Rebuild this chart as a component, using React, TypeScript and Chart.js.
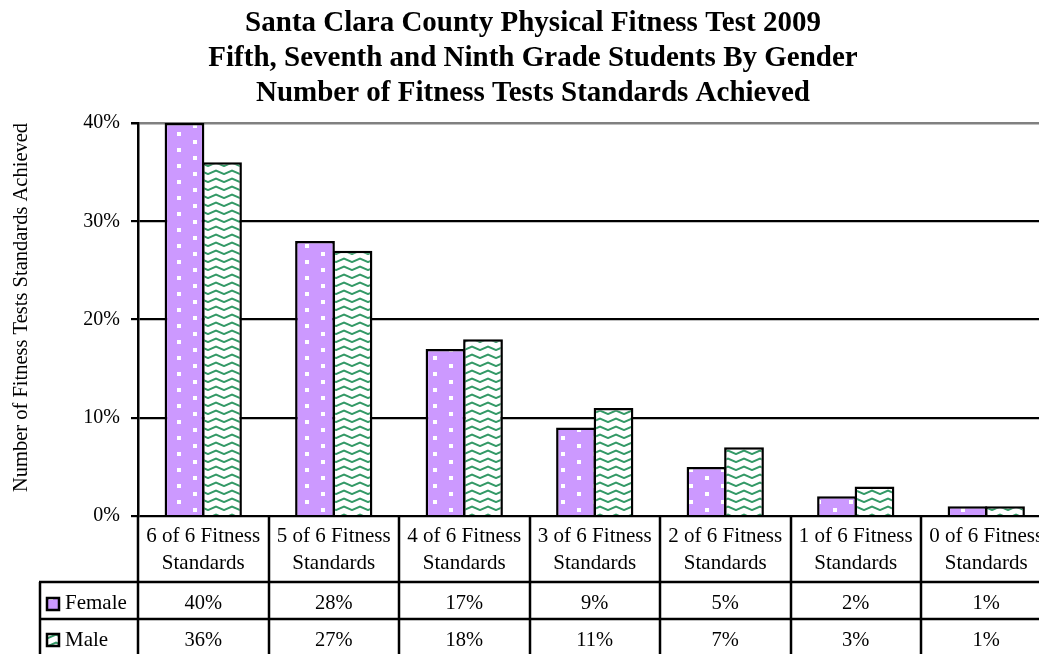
import React, { useEffect, useRef } from 'react';
import { Chart, registerables } from 'chart.js';

Chart.register(...registerables);

const titleLines = [
  'Santa Clara County Physical Fitness Test 2009',
  'Fifth, Seventh and Ninth Grade Students By Gender',
  'Number of Fitness Tests Standards Achieved',
];
const yAxisTitle = 'Number of Fitness Tests Standards Achieved';
const categories = [
  '6 of 6 Fitness Standards',
  '5 of 6 Fitness Standards',
  '4 of 6 Fitness Standards',
  '3 of 6 Fitness Standards',
  '2 of 6 Fitness Standards',
  '1 of 6 Fitness Standards',
  '0 of 6 Fitness Standards',
];
const categoryLines = [
  ['6 of 6 Fitness', 'Standards'],
  ['5 of 6 Fitness', 'Standards'],
  ['4 of 6 Fitness', 'Standards'],
  ['3 of 6 Fitness', 'Standards'],
  ['2 of 6 Fitness', 'Standards'],
  ['1 of 6 Fitness', 'Standards'],
  ['0 of 6 Fitness', 'Standards'],
];
const seriesNames = ['Female', 'Male'];
const femaleValues = [40, 28, 17, 9, 5, 2, 1];
const maleValues = [36, 27, 18, 11, 7, 3, 1];
const yMin = 0;
const yMax = 40;
const yStep = 10;

const FONT = '"Liberation Serif", "Times New Roman", serif';

function makeDotPattern(ctx: CanvasRenderingContext2D) {
  const c = document.createElement('canvas');
  c.width = 32;
  c.height = 16;
  const g = c.getContext('2d')!;
  g.fillStyle = '#CC99FF';
  g.fillRect(0, 0, 32, 16);
  g.fillStyle = '#FFFFFF';
  g.fillRect(17, 4, 4, 4);
  g.fillRect(1, 12, 4, 4);
  return ctx.createPattern(c, 'repeat')!;
}

function makeZigzagPattern(ctx: CanvasRenderingContext2D) {
  const c = document.createElement('canvas');
  c.width = 16;
  c.height = 8;
  const g = c.getContext('2d')!;
  g.fillStyle = '#FFFFFF';
  g.fillRect(0, 0, 16, 8);
  g.strokeStyle = '#339966';
  g.lineWidth = 2;
  g.beginPath();
  g.moveTo(-2, 6.5);
  g.lineTo(0, 6);
  g.lineTo(8, 2.5);
  g.lineTo(16, 6);
  g.lineTo(18, 6.5);
  g.stroke();
  return ctx.createPattern(c, 'repeat')!;
}

export default function App() {
  const ref = useRef<HTMLCanvasElement | null>(null);

  useEffect(() => {
    const canvas = ref.current!;
    const ctx = canvas.getContext('2d')!;
    const femalePattern = makeDotPattern(ctx);
    const malePattern = makeZigzagPattern(ctx);
    const patterns = [femalePattern, malePattern];
    const valuesBySeries = [femaleValues, maleValues];

    const decorPlugin = {
      id: 'decor',
      afterDraw(chart: any) {
        const c = chart.ctx as CanvasRenderingContext2D;
        const xs = chart.scales.x;
        const area = chart.chartArea;
        const catW = xs.getPixelForValue(1) - xs.getPixelForValue(0);
        const axisY = area.bottom;
        const row1 = 582;
        const row2 = 619;
        const row3 = 656;
        const leftCol = 40;
        const bottom = chart.height;

        c.save();
        // Title
        c.fillStyle = '#000';
        c.textAlign = 'center';
        c.textBaseline = 'alphabetic';
        c.font = `bold 29px ${FONT}`;
        const titleBase = [31, 66, 101];
        titleLines.forEach((t, i) => c.fillText(t, 533, titleBase[i]));

        // Y axis title
        c.save();
        c.translate(27, 307.5);
        c.rotate(-Math.PI / 2);
        c.font = `20.5px ${FONT}`;
        c.textAlign = 'center';
        c.textBaseline = 'alphabetic';
        c.fillText(yAxisTitle, 0, 0);
        c.restore();

        // Table lines
        c.strokeStyle = '#000';
        c.lineWidth = 2.5;
        c.beginPath();
        for (let i = 0; i <= categories.length; i++) {
          const x = Math.round(xs.getPixelForValue(i) - catW / 2);
          c.moveTo(x, axisY);
          c.lineTo(x, bottom);
        }
        c.moveTo(leftCol, row1);
        c.lineTo(leftCol, bottom);
        [row1, row2, row3].forEach((y) => {
          c.moveTo(leftCol - 1, y);
          c.lineTo(chart.width, y);
        });
        c.stroke();

        // Category labels
        c.fillStyle = '#000';
        c.textAlign = 'center';
        c.font = `21px ${FONT}`;
        categoryLines.forEach((lines, i) => {
          const cx = xs.getPixelForValue(i);
          c.fillText(lines[0], cx, 542);
          c.fillText(lines[1], cx, 569);
        });

        // Series rows
        const rowBase = [609, 646];
        const keyTop = [597, 633];
        seriesNames.forEach((name, s) => {
          c.fillStyle = patterns[s];
          c.fillRect(46, keyTop[s], 14, 14);
          c.lineWidth = 2.5;
          c.strokeStyle = '#000';
          c.strokeRect(47, keyTop[s] + 1, 12, 12);
          c.fillStyle = '#000';
          c.textAlign = 'left';
          c.font = `21px ${FONT}`;
          c.fillText(name, 65, rowBase[s]);
          c.textAlign = 'center';
          c.font = `20.5px ${FONT}`;
          valuesBySeries[s].forEach((v, i) => {
            c.fillText(`${v}%`, xs.getPixelForValue(i), rowBase[s]);
          });
        });
        c.restore();
      },
    };

    const chart = new Chart(canvas, {
      type: 'bar',
      data: {
        labels: categories,
        datasets: [
          {
            label: seriesNames[0],
            data: femaleValues,
            backgroundColor: femalePattern as any,
            borderColor: '#000',
            borderWidth: 2.5,
            borderSkipped: 'start',
            categoryPercentage: 0.575,
            barPercentage: 1.06,
          },
          {
            label: seriesNames[1],
            data: maleValues,
            backgroundColor: malePattern as any,
            borderColor: '#000',
            borderWidth: 2.5,
            borderSkipped: 'start',
            categoryPercentage: 0.575,
            barPercentage: 1.06,
          },
        ],
      },
      options: {
        responsive: false,
        animation: false,
        devicePixelRatio: 1,
        layout: { padding: { left: 0, right: 30.5, top: 123, bottom: 184 } },
        plugins: {
          legend: { display: false },
          tooltip: { enabled: false },
          title: { display: false },
        },
        scales: {
          x: { display: false },
          y: {
            min: yMin,
            max: yMax,
            afterFit: (scale: any) => {
              scale.width = 138;
            },
            ticks: {
              stepSize: yStep,
              callback: (v: any) => `${v}%`,
              font: { family: FONT, size: 20 },
              color: '#000',
              padding: 11,
            },
            grid: {
              color: (c: any) => (c.tick && c.tick.value === yMax ? '#808080' : '#000'),
              lineWidth: (c: any) => (c.tick && c.tick.value === yMax ? 2.5 : 2.2),
              tickLength: 7,
              tickColor: '#000',
              drawTicks: true,
            },
            border: { display: true, color: '#000', width: 2.5 },
          },
        },
      },
      plugins: [decorPlugin],
    });

    return () => chart.destroy();
  }, []);

  return (
    <div
      style={{
        position: 'fixed',
        left: 0,
        top: 0,
        width: 1039,
        height: 654,
        overflow: 'hidden',
        background: '#fff',
      }}
    >
      <canvas ref={ref} width={1082} height={700} style={{ display: 'block', width: 1082, height: 700 }} />
    </div>
  );
}
